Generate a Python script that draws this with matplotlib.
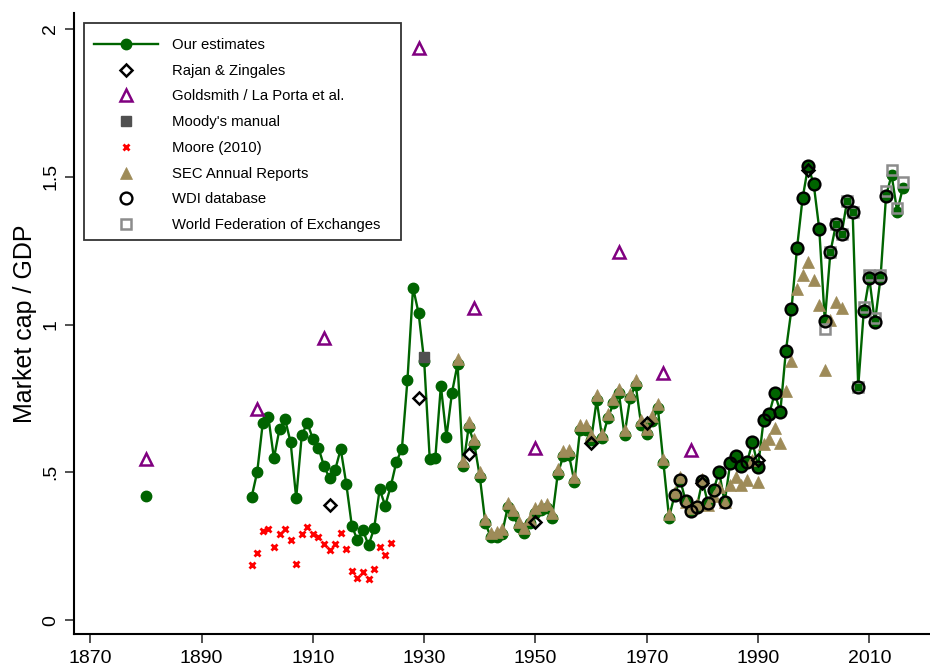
import numpy as np
import matplotlib
matplotlib.use("Agg")
import matplotlib.pyplot as plt
from matplotlib.ticker import FixedLocator, FixedFormatter
from matplotlib.patches import Rectangle

plt.rcParams['font.family'] = ['Liberation Sans', 'DejaVu Sans']

# ---- Our estimates (1880, then annual 1899-2016) ----
est_years = [1880] + list(range(1899, 2017))
est_vals = [
    0.420,
    0.417, 0.502, 0.668, 0.687, 0.547, 0.647, 0.680, 0.601, 0.413, 0.625,  # 1899-1908
    0.668, 0.612, 0.583, 0.521, 0.480, 0.508, 0.579, 0.461, 0.319, 0.271,  # 1909-1918
    0.304, 0.253, 0.310, 0.442, 0.387, 0.453, 0.535, 0.580, 0.814, 1.125,  # 1919-1928
    1.038, 0.876, 0.545, 0.548, 0.793, 0.620, 0.770, 0.866, 0.521, 0.654,  # 1929-1938
    0.597, 0.485, 0.327, 0.280, 0.282, 0.293, 0.381, 0.355, 0.316, 0.296,  # 1939-1948
    0.327, 0.364, 0.372, 0.378, 0.346, 0.494, 0.556, 0.560, 0.468, 0.643,  # 1949-1958
    0.643, 0.609, 0.744, 0.615, 0.683, 0.733, 0.767, 0.626, 0.750, 0.797,  # 1959-1968
    0.660, 0.629, 0.673, 0.716, 0.530, 0.347, 0.423, 0.475, 0.402, 0.370,  # 1969-1978
    0.383, 0.472, 0.395, 0.440, 0.502, 0.398, 0.532, 0.556, 0.522, 0.534,  # 1979-1988
    0.601, 0.519, 0.677, 0.698, 0.767, 0.705, 0.911, 1.051, 1.258, 1.427,  # 1989-1998
    1.536, 1.475, 1.323, 1.012, 1.245, 1.339, 1.305, 1.418, 1.381, 0.790,  # 1999-2008
    1.046, 1.156, 1.007, 1.156, 1.435, 1.506, 1.382, 1.461,                # 2009-2016
]

# ---- Rajan & Zingales ----
rz_years = [1913, 1929, 1938, 1950, 1960, 1970, 1980, 1990, 1999]
rz_vals = [0.391, 0.752, 0.562, 0.333, 0.600, 0.666, 0.463, 0.541, 1.523]

# ---- Goldsmith / La Porta et al. ----
gold_years = [1880, 1900, 1912, 1929, 1939, 1950, 1965, 1973, 1978]
gold_vals = [0.545, 0.714, 0.954, 1.935, 1.055, 0.583, 1.246, 0.837, 0.575]

# ---- Moody's manual ----
moody_years = [1930]
moody_vals = [0.891]

# ---- Moore (2010) ----
moore_years = list(range(1899, 1925))
moore_vals = [
    0.187, 0.226, 0.300, 0.309, 0.246, 0.292, 0.307, 0.271, 0.190, 0.291,
    0.315, 0.293, 0.282, 0.256, 0.238, 0.256, 0.296, 0.239, 0.167, 0.143,
    0.164, 0.138, 0.172, 0.246, 0.219, 0.260,
]

# ---- SEC Annual Reports ----
sec_years = list(range(1936, 2006))
sec_vals = [
    0.883, 0.537, 0.670, 0.613, 0.500, 0.342, 0.296, 0.298, 0.309, 0.397,  # 1936-1945
    0.371, 0.332, 0.312, 0.343, 0.380, 0.388, 0.394, 0.362, 0.510, 0.572,  # 1946-1955
    0.576, 0.484, 0.659, 0.659, 0.625, 0.760, 0.631, 0.699, 0.749, 0.783,  # 1956-1965
    0.642, 0.766, 0.813, 0.676, 0.645, 0.689, 0.732, 0.546, 0.360, 0.432,  # 1966-1975
    0.485, 0.400, 0.380, 0.392, 0.478, 0.390, 0.420, 0.451, 0.400, 0.456,  # 1976-1985
    0.485, 0.457, 0.474, 0.541, 0.468, 0.597, 0.614, 0.649, 0.600, 0.775,  # 1986-1995
    0.878, 1.120, 1.168, 1.213, 1.151, 1.066, 0.845, 1.015, 1.075, 1.055,  # 1996-2005
]

# ---- WDI database ----
wdi_years = list(range(1975, 2014))
wdi_vals = [
    0.423, 0.475, 0.402, 0.370, 0.383, 0.472, 0.395, 0.440, 0.502, 0.398,  # 1975-1984
    0.532, 0.556, 0.522, 0.534, 0.601, 0.519, 0.677, 0.698, 0.767, 0.705,  # 1985-1994
    0.911, 1.051, 1.258, 1.427, 1.536, 1.475, 1.323, 1.012, 1.245, 1.339,  # 1995-2004
    1.305, 1.418, 1.381, 0.790, 1.046, 1.156, 1.007, 1.156, 1.435,         # 2005-2013
]

# ---- World Federation of Exchanges ----
wfe_years = list(range(2002, 2017))
wfe_vals = [0.984, 1.245, 1.339, 1.305, 1.418, 1.381, 0.790, 1.060,
            1.168, 1.021, 1.168, 1.453, 1.523, 1.393, 1.481]

x_ticks = [1870, 1890, 1910, 1930, 1950, 1970, 1990, 2010]
y_ticks = [0, 0.5, 1, 1.5, 2]
y_tick_labels = ["0", ".5", "1", "1.5", "2"]

GREEN = "#006400"
PURPLE = "#800080"
SAND = "#9e8b58"

W, H = 930, 668
fig = plt.figure(figsize=(W / 100, H / 100), dpi=100)
ax = fig.add_axes([74 / W, 34 / H, 1 - 74 / W, (634 - 13) / H])

# estimates: connect only consecutive years
yrs = np.array(est_years)
vals = np.array(est_vals, dtype=float)
full_years = np.arange(yrs.min(), yrs.max() + 1)
full_vals = np.full(full_years.shape, np.nan)
full_vals[yrs - yrs.min()] = vals
ax.plot(full_years, full_vals, '-', color=GREEN, lw=1.7, zorder=2)
ax.plot(yrs, vals, 'o', color=GREEN, ms=7.5, mec=GREEN, zorder=2.1)
h_est_leg, = ax.plot([], [], '-o', color=GREEN, lw=1.7, ms=7.5)

h_sec, = ax.plot(sec_years, sec_vals, '^', ls='none', color=SAND, mec=SAND,
                 ms=8, mew=0.5, zorder=3)
h_wfe, = ax.plot(wfe_years, wfe_vals, 's', ls='none', mfc='none', mec='#8c8c8c',
                 ms=7, mew=1.8, zorder=3.5)
h_wdi, = ax.plot(wdi_years, wdi_vals, 'o', ls='none', mfc='none', mec='black',
                 ms=8.5, mew=1.7, zorder=4)
h_rz, = ax.plot(rz_years, rz_vals, 'D', ls='none', mfc='none', mec='black',
                ms=6.5, mew=1.8, zorder=5)
h_gold, = ax.plot(gold_years, gold_vals, '^', ls='none', mfc='none', mec=PURPLE,
                  ms=8, mew=1.8, zorder=5)
h_moody, = ax.plot(moody_years, moody_vals, 's', ls='none', color='#505050',
                   ms=6.5, zorder=5)
h_moore, = ax.plot(moore_years, moore_vals, 'x', ls='none', color='red',
                   ms=5, mew=2, zorder=5)

ax.set_xlim(1867.07, 2020.9)
ax.set_ylim(-0.047, 2.054)

ax.xaxis.set_major_locator(FixedLocator(x_ticks))
ax.yaxis.set_major_locator(FixedLocator(y_ticks))
ax.yaxis.set_major_formatter(FixedFormatter(y_tick_labels))
ax.tick_params(axis='both', direction='out', length=6.5, width=1.2,
               labelsize=14, color='#333333')
ax.tick_params(axis='y', labelrotation=90, pad=4)
for lab in ax.get_yticklabels():
    lab.set_verticalalignment('center')
ax.tick_params(axis='x', pad=5)

for side in ['top', 'right']:
    ax.spines[side].set_visible(False)
for side in ['left', 'bottom']:
    ax.spines[side].set_linewidth(1.5)

ax.set_ylabel("Market cap / GDP", fontsize=18, labelpad=4)

# legend box frame (pixel box 84..401 x 23..240)
box = Rectangle((84 / W, 1 - 240 / H), 317 / W, 217 / H,
                transform=fig.transFigure, facecolor='white',
                edgecolor='#333333', lw=1.3, zorder=6)
ax.add_patch(box)
box.set_clip_on(False)

handles = [h_est_leg, h_rz, h_gold, h_moody, h_moore, h_sec, h_wdi, h_wfe]
labels = ["Our estimates", "Rajan & Zingales", "Goldsmith / La Porta et al.",
          "Moody's manual", "Moore (2010)", "SEC Annual Reports",
          "WDI database", "World Federation of Exchanges"]
leg = ax.legend(handles, labels, loc='upper left',
                bbox_to_anchor=(94 / W, 1 - 38 / H),
                bbox_transform=fig.transFigure,
                borderaxespad=0, borderpad=0, fontsize=10.7, frameon=False,
                handlelength=4.3, handletextpad=0.95, labelspacing=0.79)
leg.set_zorder(7)

fig.savefig("out.png", dpi=100)
